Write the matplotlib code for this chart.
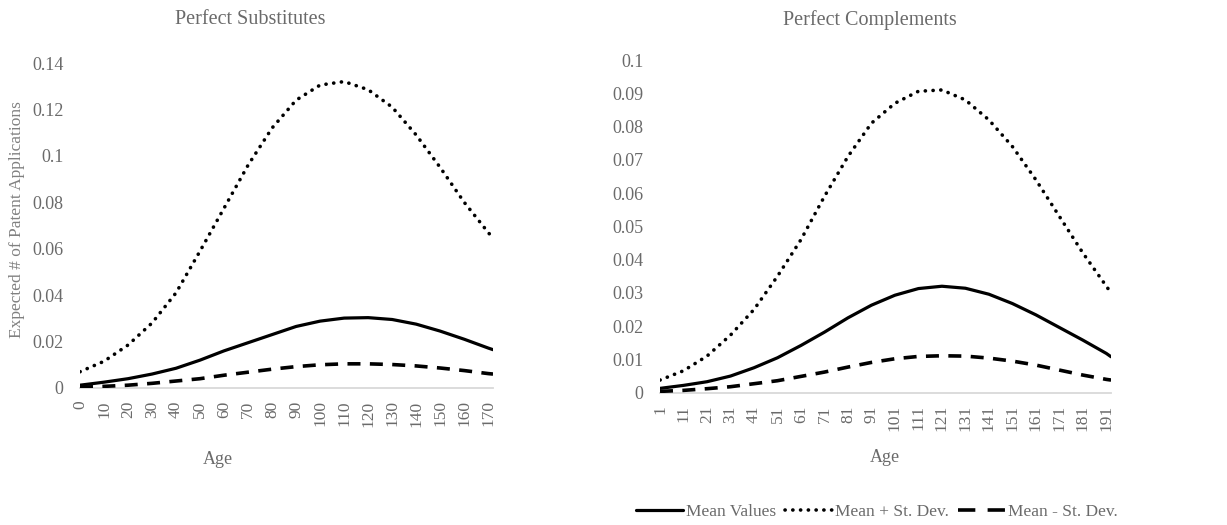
import matplotlib
matplotlib.use("Agg")
import matplotlib.pyplot as plt
from matplotlib.lines import Line2D

plt.rcParams['font.family'] = ['Liberation Serif', 'DejaVu Serif']
GREY = '#6a6a6a'

# Perfect Substitutes (left panel), age categories 0..172
ages_sub = [0, 10, 20, 30, 40, 50, 60, 70, 80, 90, 100, 110, 120, 130, 140, 150, 160, 170, 172]
mean_sub = [0.0012, 0.0025, 0.0040, 0.0060, 0.0085, 0.0120, 0.0160, 0.0195, 0.0230, 0.0265,
            0.0288, 0.0301, 0.0303, 0.0295, 0.0275, 0.0245, 0.0210, 0.0172, 0.0165]
plus_sub = [0.0070, 0.0115, 0.0185, 0.0280, 0.0410, 0.0590, 0.0775, 0.0960, 0.1120, 0.1240,
            0.1305, 0.1320, 0.1285, 0.1210, 0.1090, 0.0950, 0.0800, 0.0670, 0.0645]
minus_sub = [0.0003, 0.0007, 0.0012, 0.0020, 0.0030, 0.0040, 0.0055, 0.0068, 0.0081, 0.0092,
             0.0100, 0.0104, 0.0104, 0.0101, 0.0095, 0.0086, 0.0075, 0.0062, 0.0060]

# Perfect Complements (right panel), age categories 1..193
ages_comp = [1, 11, 21, 31, 41, 51, 61, 71, 81, 91, 101, 111, 121, 131, 141, 151, 161, 171, 181, 191, 193]
mean_comp = [0.0013, 0.0022, 0.0033, 0.0050, 0.0075, 0.0105, 0.0142, 0.0182, 0.0225, 0.0263, 0.0293,
             0.0313, 0.0320, 0.0314, 0.0296, 0.0268, 0.0234, 0.0196, 0.0158, 0.0118, 0.0108]
plus_comp = [0.0038, 0.0066, 0.0110, 0.0173, 0.0250, 0.0350, 0.0460, 0.0590, 0.0710, 0.0810, 0.0870,
             0.0906, 0.0910, 0.0880, 0.0820, 0.0740, 0.0640, 0.0530, 0.0420, 0.0320, 0.0300]
minus_comp = [0.0004, 0.0007, 0.0012, 0.0018, 0.0027, 0.0036, 0.0049, 0.0062, 0.0077, 0.0091, 0.0102,
              0.0109, 0.0111, 0.0110, 0.0104, 0.0095, 0.0083, 0.0068, 0.0053, 0.0040, 0.0038]

xt_sub = list(range(0, 171, 10))
xt_comp = list(range(1, 192, 10))
yt_sub = [0, 0.02, 0.04, 0.06, 0.08, 0.1, 0.12, 0.14]
yt_comp = [0, 0.01, 0.02, 0.03, 0.04, 0.05, 0.06, 0.07, 0.08, 0.09, 0.1]

solid = dict(color='black', lw=2.3, solid_capstyle='round')
dotted = dict(color='black', lw=2.6, linestyle=(0, (0.05, 2.1)), dash_capstyle='round')
dashed = dict(color='black', lw=2.6, linestyle=(0, (3.6, 2.6)), dash_capstyle='butt')
# legend handle: two whole dashes
dashed_leg = dict(color='black', lw=2.6, linestyle=(0, (4.8, 3.4)), dash_capstyle='butt')

fig = plt.figure(figsize=(12.27, 5.25), dpi=100)
ax1 = fig.add_axes([0.0652, 0.261, 0.3366, 0.619])
ax2 = fig.add_axes([0.5379, 0.252, 0.3676, 0.6337])


def style(ax, xt, yt, xlim, ylim):
    ax.set_xlim(*xlim)
    ax.set_ylim(*ylim)
    ax.set_xticks(xt)
    ax.set_xticklabels([str(v) for v in xt], rotation=90, fontsize=12.5, color=GREY)
    ax.set_yticks(yt)
    ax.set_yticklabels(['%g' % v for v in yt], fontsize=13, color=GREY)
    ax.tick_params(axis='x', length=0, pad=9)
    ax.tick_params(axis='y', length=0, pad=12)
    for s in ['top', 'right', 'left']:
        ax.spines[s].set_visible(False)
    ax.spines['bottom'].set_color('#d9d9d9')
    ax.spines['bottom'].set_linewidth(1.3)
    ax.spines['bottom'].set_zorder(0)


ax1.plot(ages_sub, plus_sub, **dotted)
ax1.plot(ages_sub, mean_sub, **solid)
ax1.plot(ages_sub, minus_sub, **dashed)
style(ax1, xt_sub, yt_sub, (0, 172), (0, 0.14))

ax2.plot(ages_comp, plus_comp, **dotted)
ax2.plot(ages_comp, mean_comp, **solid)
ax2.plot(ages_comp, minus_comp, **dashed)
style(ax2, xt_comp, yt_comp, (1, 193), (0, 0.1))

fig.text(250 / 1227, 1 - 20 / 525, 'Perfect Substitutes', ha='center', va='center',
         fontsize=14.5, color=GREY)
fig.text(870 / 1227, 1 - 20 / 525, 'Perfect Complements', ha='center', va='center',
         fontsize=14.5, color=GREY)
fig.text(218 / 1227, 1 - 460 / 525, 'Age', ha='center', va='center', fontsize=13, color=GREY)
fig.text(885 / 1227, 1 - 457 / 525, 'Age', ha='center', va='center', fontsize=13, color=GREY)
fig.text(17 / 1227, 1 - 220 / 525, 'Expected # of Patent Applications', rotation=90,
         ha='center', va='center', fontsize=12.5, color='#808080')

handles = [Line2D([], [], **solid), Line2D([], [], **dotted), Line2D([], [], **dashed_leg)]
labels = ['Mean Values', 'Mean + St. Dev.', 'Mean - St. Dev.']
fig.legend(handles, labels, loc='center right', bbox_to_anchor=(1118 / 1227, 1 - 512 / 525),
           ncol=3, frameon=False, fontsize=12.5, labelcolor=GREY, handlelength=2.7,
           handletextpad=0.2, columnspacing=0.5, borderpad=0, borderaxespad=0)

fig.savefig('out.png', dpi=100)
